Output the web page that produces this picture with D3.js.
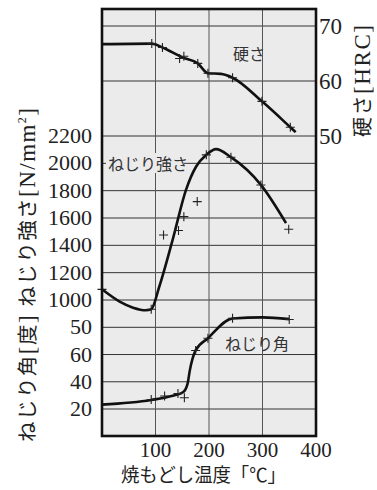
<!DOCTYPE html>
<html>
<head>
<meta charset="utf-8">
<script src="https://cdn.jsdelivr.net/npm/d3@7"></script>
<style>
  body { margin: 0; background: #fff; }
  svg { display: block; }
</style>
</head>
<body>
<svg width="377" height="490"></svg>
<script>
  // temperatures [C] and values
  var hardCurveT = [0, 93, 113, 150, 179, 198, 222, 244, 299, 352, 362];
  var hardCurveV = [66.7, 66.8, 66.1, 64.3, 63.2, 61.4, 61.3, 60.6, 56.3, 51.6, 50.7];
  var hardMarkT = [93, 113, 145, 153, 179, 198, 244, 299, 352];
  var hardMarkV = [66.8, 66.1, 64.1, 64.5, 63.2, 61.4, 60.6, 56.3, 51.6];

  var strCurveT = [0, 33, 58, 82, 92, 107, 132, 157, 176, 195, 213, 241, 297, 344];
  var strCurveV = [1078, 988, 944, 925, 932, 1097, 1440, 1806, 1977, 2062, 2104, 2045, 1842, 1562];
  var strMarkT = [0, 92, 115, 143, 153, 178, 195, 241, 297, 349];
  var strMarkV = [1078, 932, 1476, 1508, 1610, 1720, 2062, 2045, 1842, 1518];

  var angCurveT = [0, 92, 130, 152, 160, 164, 175, 198, 244, 300, 350];
  var angCurveV = [23.2, 26.6, 29.5, 32.5, 38.6, 48, 63, 72, 86.5, 87.3, 86];
  var angMarkT = [92, 117, 142, 154, 175, 198, 244, 350];
  var angMarkV = [26.9, 29.5, 31.3, 28.3, 63, 72, 86.7, 85.7];

  var xTicks = [100, 200, 300, 400];
  var strTicks = [1000, 1200, 1400, 1600, 1800, 2000, 2200];
  var angTicks = [20, 40, 60, 80];
  var angTickLabels = ["20", "40", "60", "50"];
  var hardTicks = [50, 60, 70];

  var svg = d3.select("svg");
  var pLeft = 102, pRight = 316, pTop = 9, pBottom = 436;
  var serif = "'Liberation Serif', 'Times New Roman', serif";
  var jp = "'Noto Sans CJK JP', sans-serif";

  var x = d3.scaleLinear().domain([0, 400]).range([pLeft, pRight]);
  var yStr = d3.scaleLinear().domain([1000, 2200]).range([300, 136]);
  var yAng = d3.scaleLinear().domain([20, 80]).range([409, 327.3]);
  var yHard = d3.scaleLinear().domain([50, 70]).range([136, 26]);

  svg.append("rect")
    .attr("x", pLeft).attr("y", pTop)
    .attr("width", pRight - pLeft).attr("height", pBottom - pTop)
    .attr("fill", "#ebebec");

  // grid
  var g = svg.append("g").attr("stroke", "#333").attr("stroke-width", 1);
  var hLines = strTicks.map(yStr).concat(angTicks.map(yAng)).concat([yHard(60), yHard(70)]);
  g.selectAll(".h").data(hLines).enter().append("line")
    .attr("x1", pLeft).attr("x2", pRight)
    .attr("y1", function(d){ return d; }).attr("y2", function(d){ return d; });
  g.selectAll(".v").data([100, 200, 300]).enter().append("line")
    .attr("stroke", "#555")
    .attr("x1", x).attr("x2", x)
    .attr("y1", pTop).attr("y2", pBottom);

  // curves
  function drawCurve(ts, vs, y) {
    var line = d3.line()
      .x(function(d){ return x(d[0]); })
      .y(function(d){ return y(d[1]); })
      .curve(d3.curveMonotoneX);
    svg.append("path")
      .attr("d", line(d3.zip(ts, vs)))
      .attr("fill", "none")
      .attr("stroke", "#111")
      .attr("stroke-width", 2.6);
  }
  function drawMarks(ts, vs, y) {
    svg.append("g").selectAll("path")
      .data(d3.zip(ts, vs)).enter().append("path")
      .attr("transform", function(d){ return "translate(" + x(d[0]) + "," + y(d[1]) + ")"; })
      .attr("d", "M-4.5,0H4.5M0,-4.5V4.5")
      .attr("stroke", "#222")
      .attr("stroke-width", 1.1);
  }
  drawCurve(hardCurveT, hardCurveV, yHard);
  drawCurve(strCurveT, strCurveV, yStr);
  drawCurve(angCurveT, angCurveV, yAng);
  drawMarks(hardMarkT, hardMarkV, yHard);
  drawMarks(strMarkT, strMarkV, yStr);
  drawMarks(angMarkT, angMarkV, yAng);

  // frame
  svg.append("rect")
    .attr("x", pLeft).attr("y", pTop)
    .attr("width", pRight - pLeft).attr("height", pBottom - pTop)
    .attr("fill", "none").attr("stroke", "#111").attr("stroke-width", 2.6);

  // curve labels
  svg.append("rect")
    .attr("x", 106).attr("y", 153).attr("width", 78).attr("height", 20)
    .attr("fill", "#ebebec");
  var labels = [["ねじり強さ", 108, 163], ["硬さ", 233, 53], ["ねじり角", 225, 343]];
  svg.selectAll(".lab").data(labels).enter().append("text")
    .attr("x", function(d){ return d[1]; })
    .attr("y", function(d){ return d[2]; })
    .attr("dominant-baseline", "central")
    .attr("font-family", jp).attr("font-size", 16).attr("fill", "#333")
    .text(function(d){ return d[0]; });

  // tick labels
  var tickText = svg.append("g").attr("font-family", serif).attr("font-size", 22).attr("fill", "#222");
  tickText.selectAll(".ls").data(strTicks).enter().append("text")
    .attr("x", 92).attr("y", function(d){ return yStr(d) + 7; }).attr("text-anchor", "end")
    .text(function(d){ return d; });
  tickText.selectAll(".la").data(angTicks).enter().append("text")
    .attr("x", 92).attr("y", function(d){ return yAng(d) + 7; }).attr("text-anchor", "end")
    .text(function(d, i){ return angTickLabels[i]; });
  tickText.selectAll(".rh").data(hardTicks).enter().append("text")
    .attr("x", 319).attr("y", function(d){ return yHard(d) + 8; }).attr("font-size", 23)
    .text(function(d){ return d; });
  tickText.selectAll(".bx").data(xTicks).enter().append("text")
    .attr("x", x).attr("y", 457).attr("text-anchor", "middle").attr("font-size", 21)
    .text(function(d){ return d; });

  // axis titles
  svg.append("text")
    .attr("x", 121).attr("y", 482)
    .attr("textLength", 165).attr("lengthAdjust", "spacingAndGlyphs")
    .attr("font-family", jp).attr("font-size", 19).attr("fill", "#222")
    .text("焼もどし温度「℃」");

  var lt = svg.append("text")
    .attr("transform", "translate(35,442) rotate(-90)")
    .attr("textLength", 334).attr("lengthAdjust", "spacing")
    .attr("font-family", jp).attr("font-size", 20.5).attr("fill", "#222");
  lt.append("tspan").text("ねじり角");
  lt.append("tspan").attr("font-family", serif).attr("font-size", 23).text("[");
  lt.append("tspan").text("度");
  lt.append("tspan").attr("font-family", serif).attr("font-size", 23).text("] ");
  lt.append("tspan").text("ねじり強さ");
  lt.append("tspan").attr("font-family", serif).attr("font-size", 23).text("[N/mm");
  lt.append("tspan").attr("font-family", serif).attr("font-size", 12).attr("dy", -9).text("2");
  lt.append("tspan").attr("font-family", serif).attr("font-size", 23).attr("dy", 9).text("]");

  var rt = svg.append("text")
    .attr("transform", "translate(370,137) rotate(-90)")
    .attr("textLength", 112).attr("lengthAdjust", "spacing")
    .attr("font-family", jp).attr("font-size", 20).attr("fill", "#222");
  rt.append("tspan").text("硬さ");
  rt.append("tspan").attr("font-family", serif).attr("font-size", 23).text("[HRC]");
</script>
</body>
</html>
